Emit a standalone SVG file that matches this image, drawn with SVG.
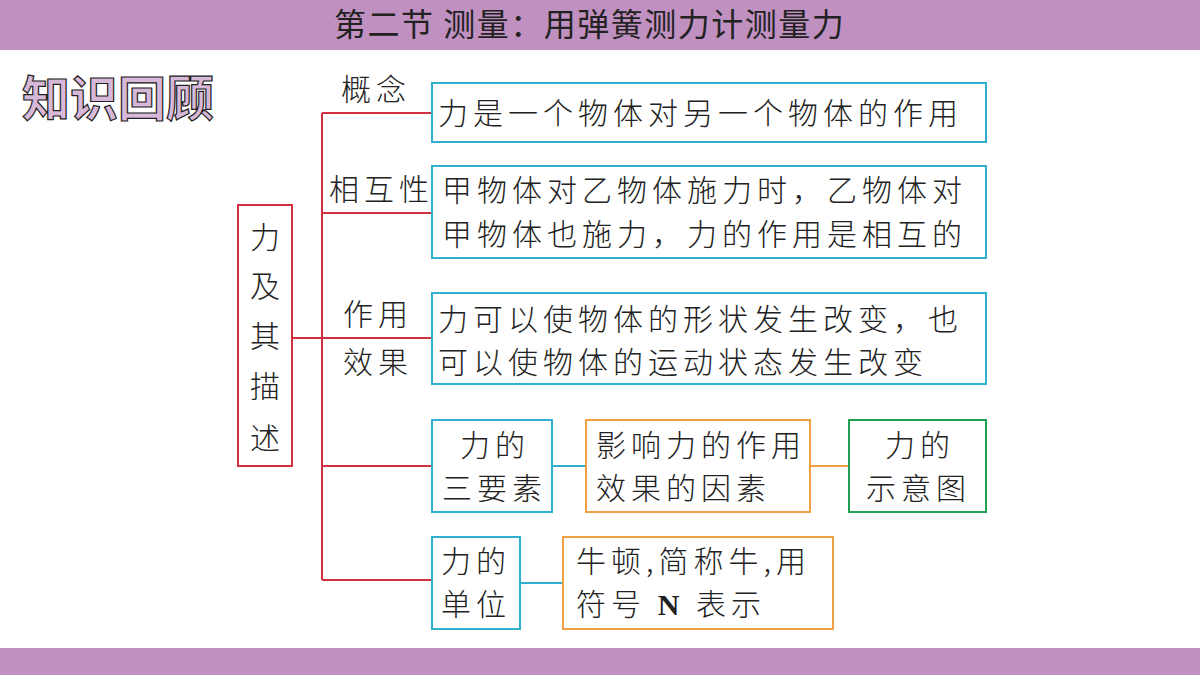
<svg xmlns="http://www.w3.org/2000/svg" width="1200" height="675" viewBox="0 0 1200 675">
<style>
text{font-family:"Noto Sans CJK SC","Noto Sans CJK JP",sans-serif;font-size:30px;fill:#222;font-weight:300;letter-spacing:5px}
.c{stroke:#30b0d0;stroke-width:2;fill:#fff}
.o{stroke:#f0a040;stroke-width:2;fill:#fff}
.g{stroke:#20a050;stroke-width:2;fill:#fff}
.r{stroke:#d03040;stroke-width:2;fill:none}
.m{text-anchor:middle}
</style>
<rect width="1200" height="675" fill="#c090c0"/>
<rect x="0" y="50" width="1200" height="598" fill="#fff"/>
<text x="334" y="36" style="font-size:32px;font-weight:400;letter-spacing:1.5px">第二节  测量：用弹簧测力计测量力</text>
<text x="22" y="116" style="font-size:48px;font-weight:700;letter-spacing:0;fill:#d8b8d8;stroke:#222;stroke-width:1.2">知识回顾</text>
<g id="connectors" class="r">
<path d="M292 338H322M322 113V580M322 113H432M322 213H432M322 338H432M322 466H432M322 580H432"/>
<path d="M552 466H586M520 583H563" stroke="#30b0d0"/>
<path d="M810 466H849" stroke="#f0a040"/>
</g>
<g id="root"><rect x="238" y="205" width="54" height="261" class="r"/>
<text x="265" y="248" class="m" style="letter-spacing:0">力</text><text x="265" y="297" class="m" style="letter-spacing:0">及</text><text x="265" y="347" class="m" style="letter-spacing:0">其</text><text x="265" y="397" class="m" style="letter-spacing:0">描</text><text x="265" y="449" class="m" style="letter-spacing:0">述</text></g>
<g id="l1"><text x="341" y="100">概念</text></g>
<g id="l2"><text x="329" y="200">相互性</text></g>
<g id="l3"><text x="343" y="325">作用</text><text x="343" y="373">效果</text></g>
<g id="n1"><rect x="432" y="83" width="554" height="59" class="c"/><text x="438" y="124">力是一个物体对另一个物体的作用</text></g>
<g id="n2"><rect x="432" y="166" width="554" height="92" class="c"/><text x="442" y="201">甲物体对乙物体施力时，乙物体对</text><text x="442" y="245">甲物体也施力，力的作用是相互的</text></g>
<g id="n3"><rect x="432" y="293" width="554" height="91" class="c"/><text x="438" y="330">力可以使物体的形状发生改变，也</text><text x="438" y="373">可以使物体的运动状态发生改变</text></g>
<g id="n4"><rect x="432" y="420" width="120" height="92" class="c"/><text x="460" y="456">力的</text><text x="442" y="499">三要素</text></g>
<g id="n5"><rect x="586" y="420" width="224" height="92" class="o"/><text x="596" y="456">影响力的作用</text><text x="596" y="499">效果的因素</text></g>
<g id="n6"><rect x="849" y="420" width="137" height="92" class="g"/><text x="885" y="456">力的</text><text x="866" y="499">示意图</text></g>
<g id="n7"><rect x="432" y="537" width="88" height="92" class="c"/><text x="441" y="572">力的</text><text x="441" y="615">单位</text></g>
<g id="n8"><rect x="563" y="537" width="270" height="92" class="o"/><text x="576" y="572">牛顿,简称牛,用</text><text x="576" y="615">符号 <tspan style="font-family:'Liberation Serif',serif;font-weight:700">N</tspan> 表示</text></g>
</svg>
